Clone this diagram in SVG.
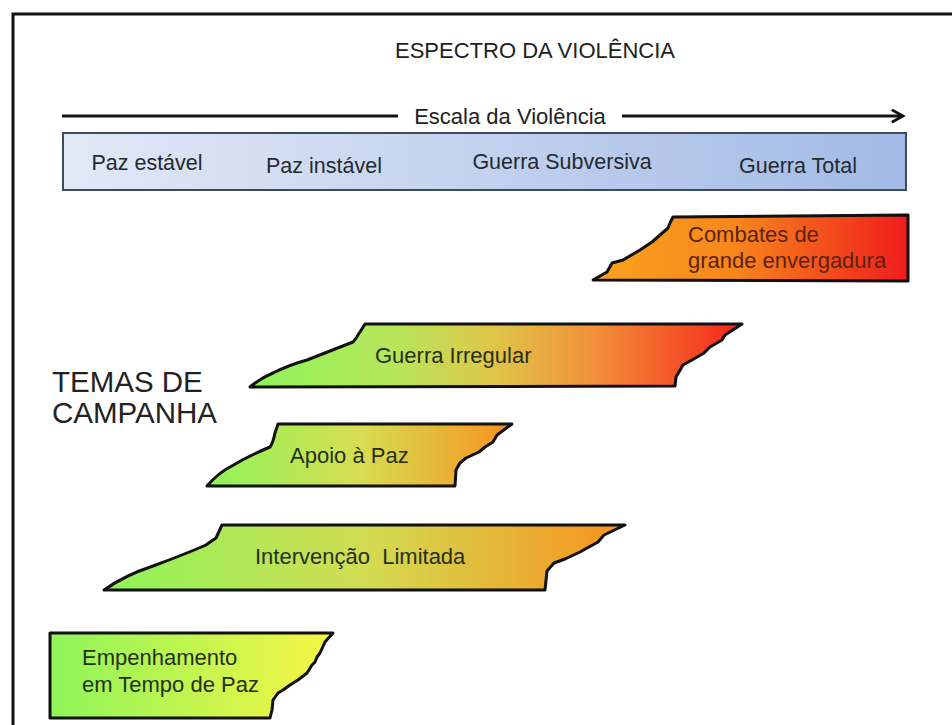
<svg xmlns="http://www.w3.org/2000/svg" width="952" height="725" viewBox="0 0 952 725">
<defs>
<style>
.t{font-family:"Liberation Sans",Arial,sans-serif;font-size:22px;fill:#222}
.bar{font-family:"Liberation Sans",Arial,sans-serif;font-size:21.5px;fill:#252a30}
.s{stroke:#111;stroke-width:3;stroke-linejoin:round}
.g{font-family:"Liberation Sans",Arial,sans-serif;font-size:22px;fill:#263019}
.r{font-family:"Liberation Sans",Arial,sans-serif;font-size:22px;fill:#5a2410}
</style>
<linearGradient id="gBar" x1="0" y1="0" x2="1" y2="0">
<stop offset="0" stop-color="#e2e9f7"/><stop offset="1" stop-color="#a2bae6"/>
</linearGradient>
<linearGradient id="gComb" x1="0" y1="0" x2="1" y2="0">
<stop offset="0" stop-color="#f9a41c"/><stop offset="0.45" stop-color="#f7861c"/><stop offset="1" stop-color="#f01c1c"/>
</linearGradient>
<linearGradient id="gIrr" x1="0" y1="0" x2="1" y2="0">
<stop offset="0" stop-color="#8ef55a"/><stop offset="0.3" stop-color="#b8e55a"/><stop offset="0.5" stop-color="#e0c448"/><stop offset="0.7" stop-color="#f2903a"/><stop offset="1" stop-color="#f6261a"/>
</linearGradient>
<linearGradient id="gApo" x1="0" y1="0" x2="1" y2="0">
<stop offset="0" stop-color="#8ef55a"/><stop offset="0.5" stop-color="#d6de52"/><stop offset="1" stop-color="#f7921e"/>
</linearGradient>
<linearGradient id="gInt" x1="0" y1="0" x2="1" y2="0">
<stop offset="0" stop-color="#8ef55a"/><stop offset="0.5" stop-color="#d2dc52"/><stop offset="1" stop-color="#f7921e"/>
</linearGradient>
<linearGradient id="gEmp" x1="0" y1="0" x2="1" y2="0">
<stop offset="0" stop-color="#8ef55a"/><stop offset="1" stop-color="#f8f545"/>
</linearGradient>
<marker id="arr" viewBox="0 0 12 12" refX="10" refY="6" markerWidth="5" markerHeight="5" orient="auto" markerUnits="strokeWidth">
<path d="M1,1 L10,6 L1,11" fill="none" stroke="#111" stroke-width="2.2"/>
</marker>
</defs>
<rect width="952" height="725" fill="#fff"/>
<path d="M13,725 V14 H952" fill="none" stroke="#111" stroke-width="3"/>

<g id="title">
<text class="t" x="535" y="58" text-anchor="middle">ESPECTRO DA VIOLÊNCIA</text>
</g>

<g id="connectors">
<line x1="62" y1="116" x2="398" y2="116" stroke="#111" stroke-width="3"/>
<line x1="622" y1="116" x2="903" y2="116" stroke="#111" stroke-width="3" marker-end="url(#arr)"/>
</g>
<g id="scale-label">
<text class="t" x="510" y="124" text-anchor="middle">Escala da Violência</text>
</g>

<g id="spectrum-bar">
<rect x="63" y="133" width="843" height="57" fill="url(#gBar)" stroke="#3d4b5c" stroke-width="2"/>
<text class="bar" x="147" y="170" text-anchor="middle">Paz estável</text>
<text class="bar" x="324" y="173" text-anchor="middle">Paz instável</text>
<text class="bar" x="562" y="169" text-anchor="middle">Guerra Subversiva</text>
<text class="bar" x="798" y="173" text-anchor="middle">Guerra Total</text>
</g>

<g id="temas-label">
<text class="t" x="52" y="392" style="font-size:29.5px">TEMAS DE</text>
<text class="t" x="52" y="423" style="font-size:29.5px">CAMPANHA</text>
</g>

<g id="combates">
<path class="s" fill="url(#gComb)" d="M593,280 L607,272 L612,263 L623,260 L640,250 L652,242 L660,235 L668,228 L670,223 L673,217 L908,215 L908,281 Z"/>
<text class="r" x="688" y="242">Combates de</text>
<text class="r" x="688" y="268">grande envergadura</text>
</g>

<g id="guerra-irregular">
<path class="s" fill="url(#gIrr)" d="M250,387 C258,380 266,376 273,373 C285,367 296,363 307,360 L353,342 C357,338 358,334 360,332 L365,324 L742,324 L725,335 L722,340 L710,347 L704,353 L692,360 L683,365 L679,372 L676,377 L675,386 Z"/>
<text class="g" x="375" y="363">Guerra Irregular</text>
</g>

<g id="apoio-paz">
<path class="s" fill="url(#gApo)" d="M207,486 C214,478 222,471 230,467 C245,458 258,452 270,447 C273,443 274,438 275,433 L278,424 L512,424 L497,435 L493,442 L485,447 L479,452 L466,458 L460,463 L456,470 L455,486 Z"/>
<text class="g" x="290" y="463">Apoio à Paz</text>
</g>

<g id="intervencao-limitada">
<path class="s" fill="url(#gInt)" d="M104,590 C118,580 135,572 153,566 C172,559 190,552 206,545 C210,542 213,540 216,538 L222,525 L625,525 L604,535 L598,542 L580,552 L565,559 L554,563 L547,571 L545,590 Z"/>
<text class="g" x="255" y="564" xml:space="preserve">Intervenção  Limitada</text>
</g>

<g id="empenhamento">
<path class="s" fill="url(#gEmp)" d="M50,633 L333,633 L325,642 L320,653 L317,657 L315,662 L312,665 L307,673 L298,680 L290,685 L283,690 L278,693 L273,700 L272,710 L270,718 L50,718 Z"/>
<text class="g" x="82" y="665">Empenhamento</text>
<text class="g" x="82" y="692">em Tempo de Paz</text>
</g>
</svg>
